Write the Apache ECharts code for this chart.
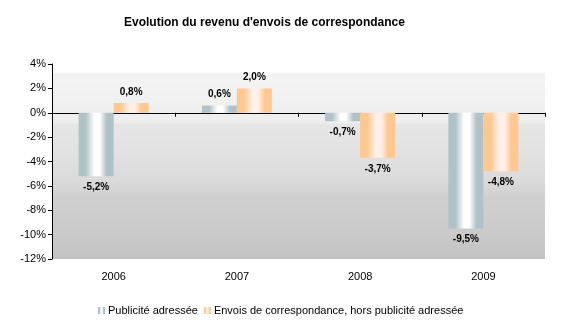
<!DOCTYPE html>
<html><head><meta charset="utf-8">
<script src="https://cdn.jsdelivr.net/npm/echarts@6/dist/echarts.min.js"></script>
<style>html,body{margin:0;padding:0;background:#fff}#c{width:561px;height:327px}</style>
</head><body><div id="c"></div>
<script>
var title = "Evolution du revenu d'envois de correspondance";
var categories = ['2006', '2007', '2008', '2009'];
var seriesNames = ['Publicité adressée', 'Envois de correspondance, hors publicité adressée'];
var publicite = [-5.2, 0.6, -0.7, -9.5];
var envois = [0.8, 2.0, -3.7, -4.8];
var yMin = -12, yMax = 4, yStep = 2;

function hGrad(edge, mid) {
  return new echarts.graphic.LinearGradient(0, 0, 1, 0, [
    {offset: 0, color: edge}, {offset: 0.2, color: edge},
    {offset: 0.45, color: mid}, {offset: 0.6, color: mid}, {offset: 0.8, color: edge}, {offset: 1, color: edge}
  ]);
}
var blueFill = hGrad('#b0c2c8', '#ffffff');
var orangeFill = hGrad('#ffc890', '#fff0ea');

function fmt(p) {
  return p.value.toFixed(1).replace('.', ',') + '%';
}
function mkData(arr) {
  return arr.map(function (v) {
    return {value: v, label: {position: v >= 0 ? 'top' : 'bottom'}};
  });
}
var labelStyle = {show: true, formatter: fmt, fontFamily: 'Liberation Sans', fontWeight: 'bold',
  fontSize: 10, color: '#000', distance: 6};

var chart = echarts.init(document.getElementById('c'), null, {renderer: 'canvas'});
chart.setOption({
  animation: false,
  title: {text: title, left: 119, top: 12,
    textStyle: {fontFamily: 'Liberation Sans', fontWeight: 'bold', fontSize: 12, color: '#000'}},
  legend: {bottom: 6, left: 93, itemWidth: 7, itemHeight: 7, itemGap: 6,
    textStyle: {fontFamily: 'Liberation Sans', fontSize: 11, color: '#000', padding: [0, 0, 0, -2]},
    data: [{name: seriesNames[0], icon: 'rect'}, {name: seriesNames[1], icon: 'rect'}]},
  grid: {left: 52, right: 16, top: 64, bottom: 68, show: true, borderWidth: 0,
    backgroundColor: new echarts.graphic.LinearGradient(0, 0, 0, 1, [
      {offset: 0, color: '#ffffff'}, {offset: 0.04, color: '#ffffff'}, {offset: 0.05, color: '#f4f4f4'},
      {offset: 0.3, color: '#eeeeee'}, {offset: 0.31, color: '#e6e6e6'}, {offset: 0.45, color: '#e2e2e2'}, {offset: 0.6, color: '#dadada'},
      {offset: 0.68, color: '#d0d0d0'}, {offset: 0.85, color: '#cbcbcb'}, {offset: 1, color: '#c2c2c2'}])},
  xAxis: [
    {type: 'category', data: categories, position: 'bottom',
      axisLine: {show: false, onZero: false}, axisTick: {show: false},
      axisLabel: {fontFamily: 'Liberation Sans', fontSize: 11, color: '#000', margin: 12}},
    {type: 'category', data: categories, position: 'top',
      axisLine: {show: true, onZero: true, lineStyle: {color: '#000', width: 1}},
      axisTick: {show: true, inside: true, length: 4, lineStyle: {color: '#000'}},
      axisLabel: {show: false}}
  ],
  yAxis: {type: 'value', min: yMin, max: yMax, interval: yStep,
    axisLine: {show: true, lineStyle: {color: '#000'}},
    axisTick: {show: true, length: 4, lineStyle: {color: '#000'}},
    splitLine: {show: false},
    axisLabel: {formatter: '{value}%', fontFamily: 'Liberation Sans', fontSize: 11, color: '#000', margin: 6}},
  series: [
    {name: seriesNames[0], type: 'bar', xAxisIndex: 0, barWidth: 35, barGap: '0%',
      itemStyle: {color: blueFill}, label: labelStyle, data: mkData(publicite)},
    {name: seriesNames[1], type: 'bar', xAxisIndex: 0, barWidth: 35, barGap: '0%',
      itemStyle: {color: orangeFill}, label: labelStyle, data: mkData(envois)}
  ]
});
</script></body></html>
